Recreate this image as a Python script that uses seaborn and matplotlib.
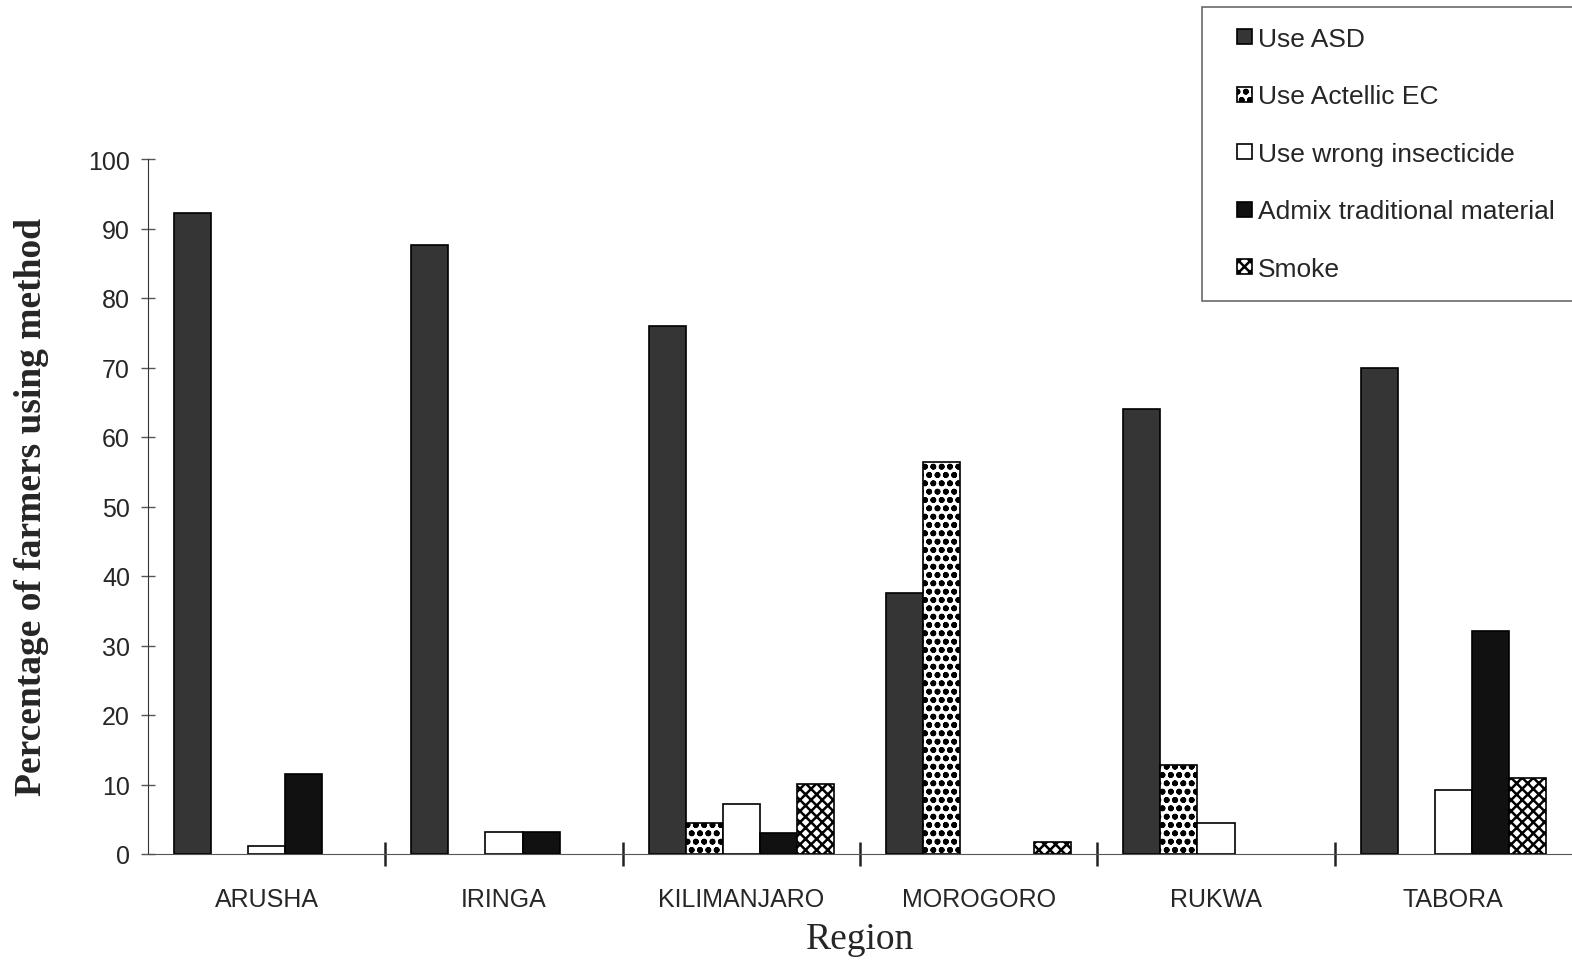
import matplotlib
matplotlib.use("Agg")
import matplotlib.pyplot as plt
from matplotlib.patches import Rectangle
from matplotlib.legend_handler import HandlerPatch
import seaborn as sns
import pandas as pd
import numpy as np

regions = ["ARUSHA", "IRINGA", "KILIMANJARO", "MOROGORO", "RUKWA", "TABORA"]
methods = ["Use ASD", "Use Actellic EC", "Use wrong insecticide",
           "Admix traditional material", "Smoke"]
use_asd = [92.3, 87.6, 76.0, 37.6, 64.0, 70.0]
use_actellic = [0.0, 0.0, 4.5, 56.4, 12.8, 0.0]
use_wrong = [1.2, 3.2, 7.2, 0.0, 4.4, 9.2]
admix = [11.5, 3.2, 3.0, 0.0, 0.0, 32.1]
smoke = [0.0, 0.0, 10.1, 1.7, 0.0, 10.9]

series = [use_asd, use_actellic, use_wrong, admix, smoke]
rows = []
for m, vals in zip(methods, series):
    for r, v in zip(regions, vals):
        rows.append({"Region": r, "Method": m, "Value": v})
df = pd.DataFrame(rows)

sns.set_style("white")
plt.rcParams["font.family"] = ["Liberation Sans", "DejaVu Sans"]
plt.rcParams["hatch.linewidth"] = 1.8

fig = plt.figure(figsize=(15.72, 9.62), dpi=100)
ax = fig.add_axes([148/1572, 1-855/962, 1-148/1572, (855-160)/962])

facecolors = ["#353535", "white", "white", "#111111", "white"]
hatches = [None, "oo", None, None, "xxx"]

sns.barplot(data=df, x="Region", y="Value", hue="Method", hue_order=methods,
            order=regions, palette=facecolors, width=0.78, ax=ax,
            edgecolor="black", linewidth=1.2, legend=True, saturation=1)

for cont, fc, h in zip(ax.containers, facecolors, hatches):
    for bar in cont:
        bar.set_facecolor(fc)
        bar.set_edgecolor("black")
        if h:
            bar.set_hatch(h)
        if bar.get_height() == 0:
            bar.set_visible(False)

ax.set_ylim(0, 100)
ax.set_xlim(-0.5, 5.5)
ax.set_yticks(np.arange(0, 101, 10))
ax.tick_params(axis="y", which="major", left=True, direction="inout", length=10,
               width=1, labelsize=18, pad=8, color="#555555")
ax.set_xticks(np.arange(0.5, 5.0, 1.0), minor=True)
ax.tick_params(axis="x", which="both", bottom=True)
ax.tick_params(axis="x", which="major", length=0, labelsize=18, pad=24)
ax.tick_params(axis="x", which="minor", direction="inout", length=17, width=1.8,
               color="#222222")
for s in ["top", "right"]:
    ax.spines[s].set_visible(False)
ax.spines["left"].set_color("#333333")
ax.spines["bottom"].set_color("#555555")

ax.set_ylabel("Percentage of farmers using method", fontfamily="Liberation Serif",
              fontweight="bold", fontsize=27, labelpad=28)
ax.set_xlabel("Region", fontfamily="Liberation Serif", fontsize=27, labelpad=7)

handles, labels = ax.get_legend_handles_labels()
ax.get_legend().remove()
for hd, fc, h in zip(handles, facecolors, hatches):
    hd.set_facecolor(fc)
    hd.set_edgecolor("black")
    hd.set_visible(True)
    if h:
        hd.set_hatch(h)


def small_square(legend, orig_handle, xdescent, ydescent, width, height, fontsize):
    size = 15 * 72 / 100.0
    return Rectangle((-xdescent + width - size, -ydescent + (height - size) / 2),
                     size, size)


leg = fig.legend(handles, labels, loc="upper left",
                 bbox_to_anchor=(1202/1572, 1-8/962), fontsize=19,
                 frameon=True, fancybox=False, edgecolor="#444444",
                 handlelength=1.14, handleheight=0.75, handletextpad=0.23,
                 labelspacing=1.27, borderpad=0.75, borderaxespad=0,
                 handler_map={Rectangle: HandlerPatch(patch_func=small_square)})
leg.get_frame().set_linewidth(1.2)

fig.savefig("out.png", dpi=100)
